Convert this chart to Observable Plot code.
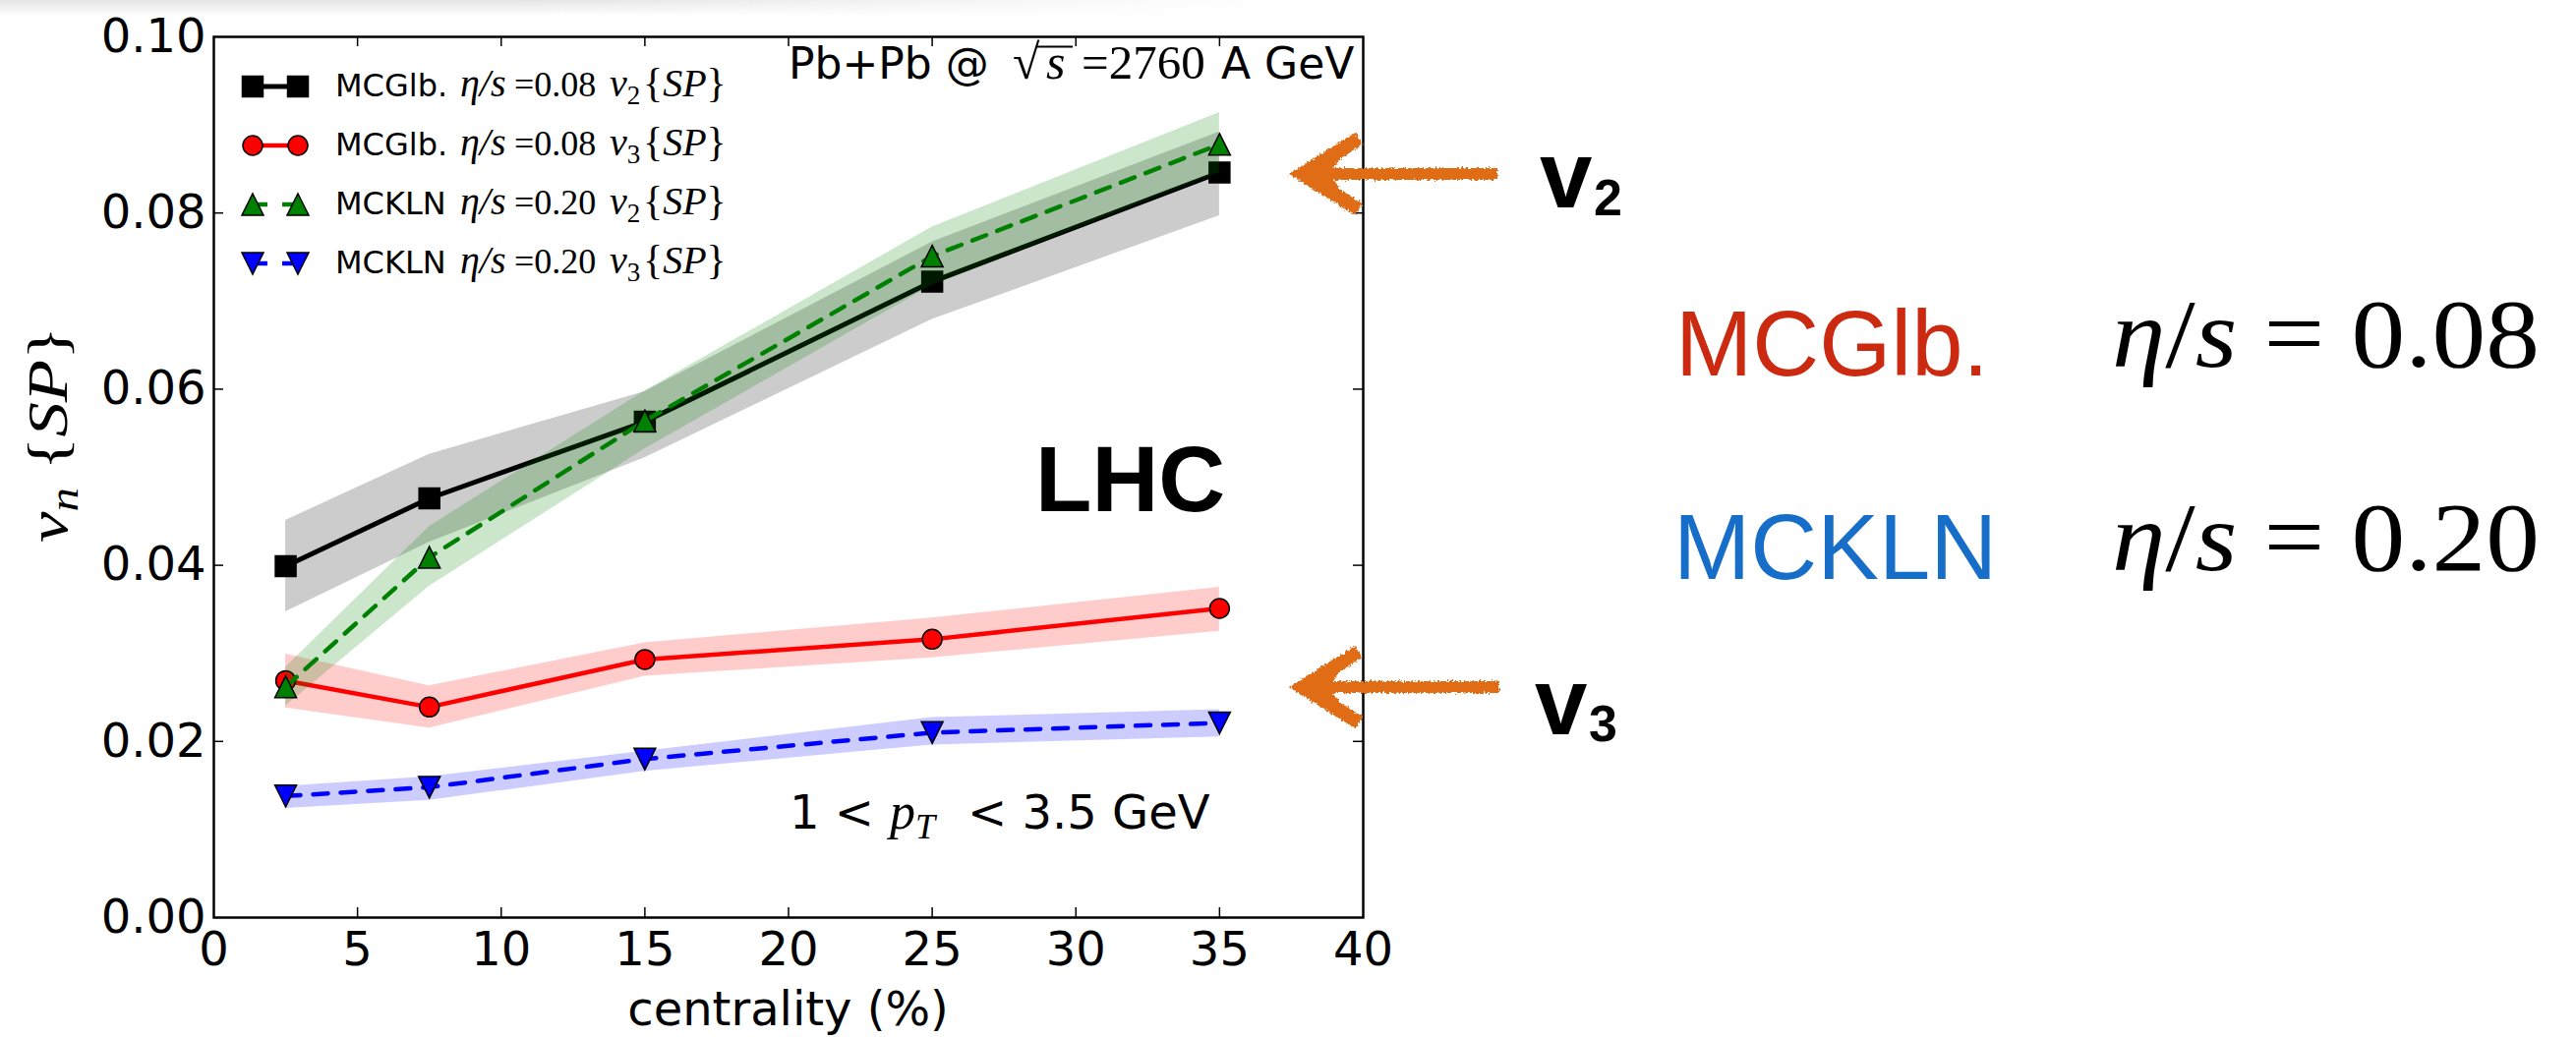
<!DOCTYPE html>
<html><head><meta charset="utf-8">
<script src="https://cdn.jsdelivr.net/npm/d3@7"></script>
<script src="https://cdn.jsdelivr.net/npm/@observablehq/plot@0.6"></script>
<style>
html,body{margin:0;padding:0;background:#fff;}
#wrap{position:relative;width:2620px;height:1055px;overflow:hidden;background:#fff;}
#shade{position:absolute;left:0;top:0;width:1300px;height:16px;background:linear-gradient(to bottom,#e4e4e4,rgba(255,255,255,0));-webkit-mask-image:linear-gradient(to right,#000 40%,transparent);mask-image:linear-gradient(to right,#000 40%,transparent);}
#chart{position:absolute;left:0;top:0;}
#overlay{position:absolute;left:0;top:0;pointer-events:none;}
#overlay text{white-space:pre;}
</style></head><body>
<div id="wrap"><div id="shade"></div><div id="chart"></div><svg id="overlay" width="2620" height="1055"></svg></div>
<script>
// ---- data ----
const centrality = [2.5, 7.5, 15, 25, 35];
const v2Glb   = [0.0399, 0.0476, 0.0563, 0.0722, 0.0846];
const v2GlbLo = [0.0347, 0.0426, 0.0522, 0.0679, 0.0797];
const v2GlbHi = [0.0451, 0.0526, 0.0597, 0.0767, 0.0892];
const v3Glb   = [0.0269, 0.0239, 0.0293, 0.0316, 0.0351];
const v3GlbLo = [0.0238, 0.0215, 0.0274, 0.0295, 0.0325];
const v3GlbHi = [0.0299, 0.0263, 0.0312, 0.0340, 0.0375];
const v2Kln   = [0.0262, 0.0409, 0.0564, 0.0751, 0.0878];
const v2KlnLo = [0.0240, 0.0376, 0.0532, 0.0718, 0.0846];
const v2KlnHi = [0.0284, 0.0444, 0.0598, 0.0784, 0.0914];
const v3Kln   = [0.0138, 0.0148, 0.0180, 0.0210, 0.0221];
const v3KlnLo = [0.0124, 0.0133, 0.0166, 0.0196, 0.0205];
const v3KlnHi = [0.0149, 0.0160, 0.0189, 0.0227, 0.0236];
const seriesNames = ["MCGlb.", "MCGlb.", "MCKLN", "MCKLN"];
const seriesEta = ["0.08", "0.08", "0.20", "0.20"];
const seriesHarm = ["2", "3", "2", "3"];
const xTicks = [0, 5, 10, 15, 20, 25, 30, 35, 40];
const yTicks = [0, 0.02, 0.04, 0.06, 0.08, 0.10];
const yTickLabels = ["0.00", "0.02", "0.04", "0.06", "0.08", "0.10"];
const xLabel = "centrality (%)";

// ---- symbols (bbox-centred like matplotlib markers) ----
const symSquare = {draw(c, s){const r=Math.sqrt(s/Math.PI);c.moveTo(-r,-r);c.lineTo(r,-r);c.lineTo(r,r);c.lineTo(-r,r);c.closePath();}};
const symUp = {draw(c, s){const r=Math.sqrt(s/Math.PI);c.moveTo(0,-r);c.lineTo(r,r);c.lineTo(-r,r);c.closePath();}};
const symDown = {draw(c, s){const r=Math.sqrt(s/Math.PI);c.moveTo(0,r);c.lineTo(r,-r);c.lineTo(-r,-r);c.closePath();}};

const styles = [
  {color:"#000000", symbol:symSquare, r:10.5, dash:null, lw:5},
  {color:"#ff0000", symbol:"circle", r:10, dash:null, lw:4.5},
  {color:"#008000", symbol:symUp, r:11, dash:"15,12", lw:4.5},
  {color:"#0000ff", symbol:symDown, r:11, dash:"15,13", lw:4.5}
];
const valueSets = [[v2Glb,v2GlbLo,v2GlbHi],[v3Glb,v3GlbLo,v3GlbHi],[v2Kln,v2KlnLo,v2KlnHi],[v3Kln,v3KlnLo,v3KlnHi]];

const W = 1420, H = 1055, ML = 217, MR = 34, MT = 37, MB = 122;
const innerW = W - ML - MR, innerH = H - MT - MB;

const marks = [];
valueSets.forEach(([v, lo, hi], k) => {
  const st = styles[k];
  const rows = centrality.map((c, i) => ({c, v: v[i], lo: lo[i], hi: hi[i]}));
  marks.push(Plot.areaY(rows, {x:"c", y1:"lo", y2:"hi", fill: st.color, fillOpacity: 0.2}));
  marks.push(Plot.line(rows, {x:"c", y:"v", stroke: st.color, strokeWidth: st.lw, strokeDasharray: st.dash}));
  marks.push(Plot.dot(rows, {x:"c", y:"v", symbol: st.symbol, r: st.r, fill: st.color, stroke:"black", strokeWidth:1.5}));
});
const innerXT = xTicks.slice(1, -1), innerYT = yTicks.slice(1, -1);
marks.push(
  Plot.tickX(innerXT, {x: d => d, insetTop: innerH - 10, stroke:"black", strokeWidth:1.5}),
  Plot.tickX(innerXT, {x: d => d, insetBottom: innerH - 10, stroke:"black", strokeWidth:1.5}),
  Plot.tickY(innerYT, {y: d => d, insetRight: innerW - 10, stroke:"black", strokeWidth:1.5}),
  Plot.tickY(innerYT, {y: d => d, insetLeft: innerW - 10, stroke:"black", strokeWidth:1.5}),
  Plot.axisX(xTicks, {anchor:"bottom", tickSize:0, tickPadding:14, fontSize:48, label:null, tickFormat: d => String(d)}),
  Plot.axisY(yTicks, {anchor:"left", tickSize:0, tickPadding:8, fontSize:48, label:null, tickFormat: d => yTickLabels[yTicks.indexOf(d)]}),
  Plot.frame({stroke:"black", strokeWidth:2.5})
);

const chart = Plot.plot({
  width: W, height: H,
  marginLeft: ML, marginRight: MR, marginTop: MT, marginBottom: MB,
  x: {domain:[0, 40], label:null},
  y: {domain:[0, 0.1], label:null},
  style: {background:"transparent", fontFamily:"DejaVu Sans", color:"black", overflow:"visible"},
  marks
});
document.getElementById("chart").appendChild(chart);

// ---- overlay annotations ----
const SANS = "DejaVu Sans", SERIF = "Liberation Serif", HEL = "Liberation Sans";
const ov = d3.select("#overlay");
const defs = ov.append("defs");
const f = defs.append("filter").attr("id","rough").attr("x","-10%").attr("y","-30%").attr("width","120%").attr("height","160%");
f.append("feTurbulence").attr("type","fractalNoise").attr("baseFrequency","0.45").attr("numOctaves",2).attr("seed",3).attr("result","n");
f.append("feDisplacementMap").attr("in","SourceGraphic").attr("in2","n").attr("scale",6).attr("xChannelSelector","R").attr("yChannelSelector","G");

function rich(x, y, segs, opts = {}) {
  const t = ov.append("text").attr("x", x).attr("y", y).attr("fill", opts.fill || "black");
  if (opts.anchor) t.attr("text-anchor", opts.anchor);
  if (opts.transform) t.attr("transform", opts.transform);
  if (opts.textLength) t.attr("textLength", opts.textLength).attr("lengthAdjust","spacingAndGlyphs");
  let pend = 0;
  segs.forEach(s => {
    const ts = t.append("tspan").text(s.t)
      .attr("font-family", s.f || SANS).attr("font-size", s.size)
      .attr("font-style", s.it ? "italic" : "normal")
      .attr("font-weight", s.b ? "bold" : "normal");
    if (s.x != null) ts.attr("x", s.x);
    const dy = pend + (s.sub || 0);
    if (dy) ts.attr("dy", dy);
    pend = -(s.sub || 0);
  });
  return t;
}

// legend
const legX1 = 257, legX2 = 303, legY0 = 88, legDY = 60;
styles.forEach((st, k) => {
  const y = legY0 + k * legDY;
  ov.append("line").attr("x1", legX1).attr("x2", legX2).attr("y1", y).attr("y2", y)
    .attr("stroke", st.color).attr("stroke-width", st.lw).attr("stroke-dasharray", st.dash ? "15,15" : null);
  [legX1, legX2].forEach(cx => {
    const p = d3.path();
    const sym = st.symbol === "circle" ? d3.symbolCircle : st.symbol;
    sym.draw(p, st.r * st.r * Math.PI);
    ov.append("path").attr("d", p.toString()).attr("transform", `translate(${cx},${y})`)
      .attr("fill", st.color).attr("stroke", "black").attr("stroke-width", 1.5);
  });
  rich(341, y + 10, [
    {t: seriesNames[k], size: 32},
    {t: "η/s", f: SERIF, it: true, size: 40, x: 468},
    {t: "=" + seriesEta[k], f: SERIF, size: 36, x: 523},
    {t: "v", f: SERIF, it: true, size: 40, x: 620},
    {t: seriesHarm[k], f: SERIF, size: 27, sub: 8},
    {t: "{", f: SERIF, size: 42, x: 654},
    {t: "SP", f: SERIF, it: true, size: 40},
    {t: "}", f: SERIF, size: 42}
  ]);
});

// header text in the frame
rich(802, 80, [
  {t: "Pb+Pb @", size: 44},
  {t: "√", f: SERIF, size: 50, x: 1030},
  {t: "s", f: SERIF, it: true, size: 50, x: 1064},
  {t: "=2760", f: SERIF, size: 49, x: 1100},
  {t: "A GeV", size: 44, x: 1242}
]);
ov.append("line").attr("x1", 1055).attr("x2", 1091).attr("y1", 47.5).attr("y2", 47.5).attr("stroke", "black").attr("stroke-width", 2);

rich(1053, 520, [{t: "LHC", f: HEL, b: true, size: 94}]);

rich(803, 843, [
  {t: "1 <", size: 48},
  {t: "p", f: SERIF, it: true, size: 52, x: 905},
  {t: "T", f: SERIF, it: true, size: 36, sub: 10},
  {t: "< 3.5 GeV", size: 48, x: 984}
]);

// axis labels
rich((ML + W - MR) / 2, 1043, [{t: xLabel, size: 48}], {anchor: "middle"});
rich(0, 0, [
  {t: "v", f: SERIF, it: true, size: 58},
  {t: "n", f: SERIF, it: true, size: 40, sub: 11},
  {t: " {", f: SERIF, size: 58},
  {t: "SP", f: SERIF, it: true, size: 58},
  {t: "}", f: SERIF, size: 58}
], {anchor: "middle", transform: "translate(68,442) rotate(-90)", textLength: 220});

// orange hand-drawn arrows
const ORANGE = "#e06c18";
[[177, 1523], [699, 1525]].forEach(([y, xe]) => {
  const g = ov.append("g").attr("filter", "url(#rough)");
  g.append("path").attr("d", `M${xe},${y} L1335,${y}`).attr("stroke", ORANGE).attr("stroke-width", 12).attr("fill", "none");
  g.append("path").attr("d", `M1382,${y-36} L1324,${y} L1382,${y+36}`).attr("stroke", ORANGE).attr("stroke-width", 14)
    .attr("stroke-linejoin", "miter").attr("fill", "none");
  g.append("path").attr("d", `M1318,${y} L1366,${y-20} L1352,${y} L1366,${y+20} Z`).attr("fill", ORANGE);
});

// v2 / v3 labels
rich(1566, 211, [{t: "v", f: HEL, b: true, size: 96}, {t: "2", f: HEL, b: true, size: 52, sub: 8, x: 1621}]);
rich(1561, 747, [{t: "v", f: HEL, b: true, size: 96}, {t: "3", f: HEL, b: true, size: 52, sub: 7, x: 1616}]);

// model / viscosity labels
rich(1704, 382, [{t: "MCGlb.", f: HEL, size: 94}], {fill: "#cc2a10"});
rich(1702, 589, [{t: "MCKLN", f: HEL, size: 94}], {fill: "#166ec8"});
rich(2148, 373, [
  {t: "η", f: SERIF, it: true, size: 100},
  {t: "/", f: SERIF, size: 100},
  {t: "s", f: SERIF, it: true, size: 100},
  {t: " = 0.08", f: SERIF, size: 100}
], {textLength: 435});
rich(2148, 580, [
  {t: "η", f: SERIF, it: true, size: 100},
  {t: "/", f: SERIF, size: 100},
  {t: "s", f: SERIF, it: true, size: 100},
  {t: " = 0.20", f: SERIF, size: 100}
], {textLength: 435});
</script>
</body></html>
